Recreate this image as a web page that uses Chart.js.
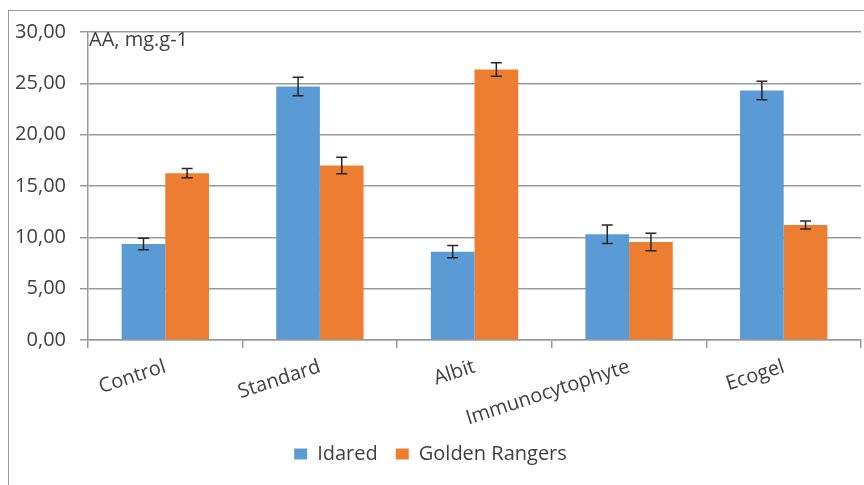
<!DOCTYPE html>
<html>
<head>
<meta charset="utf-8">
<script src="https://cdn.jsdelivr.net/npm/chart.js@4"></script>
<style>
  html, body { margin: 0; padding: 0; background: #fff; }
  #wrap { position: relative; width: 864px; height: 485px; }
</style>
</head>
<body>
<div id="wrap"><canvas id="aaChart" width="864" height="485"></canvas></div>
<script>
const categories = ['Control', 'Standard', 'Albit', 'Immunocytophyte', 'Ecogel'];

const idared = [9.35, 24.7, 8.6, 10.3, 24.3];
const idaredErr = [0.55, 0.9, 0.6, 0.9, 0.9];

const golden = [16.25, 17.0, 26.35, 9.55, 11.2];
const goldenErr = [0.45, 0.8, 0.65, 0.85, 0.4];

const yTicks = [0, 5, 10, 15, 20, 25, 30];

const FONT = '"Open Sans", "DejaVu Sans", sans-serif';
const TEXT = '#404040';

// frame round the whole chart
const framePlugin = {
  id: 'frame',
  beforeDraw(chart) {
    const ctx = chart.ctx;
    ctx.save();
    ctx.fillStyle = '#fff';
    ctx.fillRect(0, 0, chart.width, chart.height);
    ctx.strokeStyle = '#9a9a9a';
    ctx.lineWidth = 1;
    ctx.strokeRect(8.5, 10.5, chart.width + 10, chart.height + 10);
    ctx.restore();
  }
};

// error bars drawn from the bar elements
const errorBars = {
  id: 'errorBars',
  afterDatasetsDraw(chart) {
    const ctx = chart.ctx;
    const y = chart.scales.y;
    const errs = [idaredErr, goldenErr];
    ctx.save();
    ctx.strokeStyle = '#262626';
    ctx.lineWidth = 1.5;
    chart.data.datasets.forEach((ds, i) => {
      const meta = chart.getDatasetMeta(i);
      meta.data.forEach((bar, j) => {
        const v = ds.data[j];
        const e = errs[i][j];
        const top = y.getPixelForValue(v + e);
        const bot = y.getPixelForValue(v - e);
        const x = bar.x;
        ctx.beginPath();
        ctx.moveTo(x, top); ctx.lineTo(x, bot);
        ctx.moveTo(x - 5.5, top); ctx.lineTo(x + 5.5, top);
        ctx.moveTo(x - 5.5, bot); ctx.lineTo(x + 5.5, bot);
        ctx.stroke();
      });
    });
    ctx.restore();
  }
};

// unit label inside the plot, top left
const unitLabel = {
  id: 'unitLabel',
  afterDraw(chart) {
    const ctx = chart.ctx;
    ctx.save();
    ctx.font = '20px ' + FONT;
    ctx.fillStyle = TEXT;
    ctx.textBaseline = 'alphabetic';
    ctx.textAlign = 'left';
    ctx.fillText('AA, mg.g-1', chart.chartArea.left + 1, 46);
    ctx.restore();
  }
};

new Chart(document.getElementById('aaChart'), {
  type: 'bar',
  data: {
    labels: categories,
    datasets: [
      {
        label: 'Idared',
        data: idared,
        backgroundColor: '#5b9bd5',
        barPercentage: 1,
        categoryPercentage: 0.565
      },
      {
        label: 'Golden Rangers',
        data: golden,
        backgroundColor: '#ed7d31',
        barPercentage: 1,
        categoryPercentage: 0.565
      }
    ]
  },
  options: {
    responsive: false,
    animation: false,
    layout: {
      padding: { top: 32, right: 3, bottom: 11, left: 0 }
    },
    plugins: {
      legend: {
        position: 'bottom',
        labels: {
          font: { family: FONT, size: 20 },
          color: TEXT,
          boxWidth: 13,
          boxHeight: 11,
          padding: 18
        }
      },
      tooltip: { enabled: false }
    },
    scales: {
      x: {
        afterFit(scale) { scale.height = 86; },
        grid: {
          offset: true,
          drawOnChartArea: false,
          drawTicks: true,
          tickLength: 8,
          color: '#9a9a9a',
          lineWidth: 1.5
        },
        border: { color: '#9a9a9a', width: 1.5 },
        ticks: {
          font: { family: FONT, size: 20 },
          color: TEXT,
          minRotation: 18,
          maxRotation: 18,
          autoSkip: false,
          padding: 7
        }
      },
      y: {
        min: 0,
        max: 30,
        afterFit(scale) { scale.width = 88; },
        afterBuildTicks(scale) {
          scale.ticks = yTicks.map(v => ({ value: v }));
        },
        grid: {
          color: '#9a9a9a',
          lineWidth: 1.5,
          tickLength: 8
        },
        border: { color: '#9a9a9a', width: 1.5 },
        ticks: {
          font: { family: FONT, size: 20 },
          color: TEXT,
          padding: 14,
          callback: v => v.toFixed(2).replace('.', ',')
        }
      }
    }
  },
  plugins: [framePlugin, errorBars, unitLabel]
});
</script>
</body>
</html>
